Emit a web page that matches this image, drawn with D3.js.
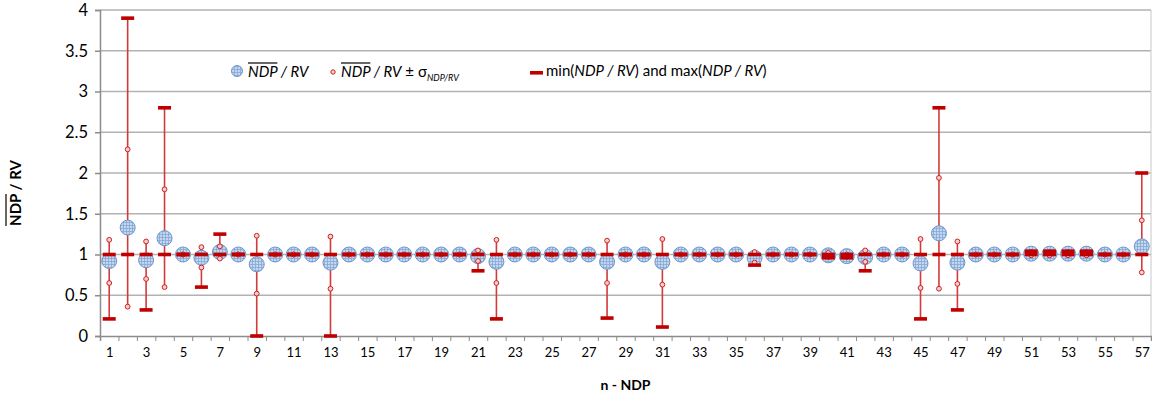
<!DOCTYPE html>
<html>
<head>
<meta charset="utf-8">
<script src="https://cdn.jsdelivr.net/npm/d3@7"></script>
<style>
  body { margin: 0; background: #fff; }
  svg { display: block; font-family: Lato, 'Open Sans', sans-serif; }
</style>
</head>
<body>
<svg id="chart" width="1152" height="394"></svg>
<script>
// n - NDP categories
const categories = d3.range(1, 58);
const yTicks = [0, 0.5, 1, 1.5, 2, 2.5, 3, 3.5, 4];
const xLabels = categories.filter((d) => d % 2 === 1);

// mean NDP/RV
const meanVals = [
  0.92, 1.33, 0.93, 1.2, 1, 0.96, 1.03, 1, 0.88, 1,
  1, 1, 0.9, 1, 1, 1, 1, 1, 1, 1,
  0.98, 0.91, 1, 1, 1, 1, 1, 0.91, 1, 1,
  0.91, 1, 1, 1, 1, 0.96, 1, 1, 1, 0.99,
  0.98, 0.97, 1, 1, 0.89, 1.26, 0.9, 1, 1, 1,
  1.01, 1.01, 1.01, 1.01, 1, 1, 1.1
];
// mean + sigma
const sigmaHigh = [
  1.18, 2.29, 1.16, 1.8, 1, 1.09, 1.1, 1, 1.23, 1,
  1, 1, 1.22, 1, 1, 1, 1, 1, 1, 1,
  1.05, 1.18, 1, 1, 1, 1, 1, 1.17, 1, 1,
  1.19, 1, 1, 1, 1, 1.03, 1, 1, 1, 1.02,
  1, 1.05, 1, 1, 1.19, 1.94, 1.16, 1, 1, 1,
  1.03, 1.03, 1.03, 1.03, 1, 1, 1.42
];
// mean - sigma
const sigmaLow = [
  0.65, 0.36, 0.7, 0.6, 1, 0.84, 0.95, 1, 0.52, 1,
  1, 1, 0.58, 1, 1, 1, 1, 1, 1, 1,
  0.92, 0.65, 1, 1, 1, 1, 1, 0.65, 1, 1,
  0.63, 1, 1, 1, 1, 0.9, 1, 1, 1, 0.97,
  0.97, 0.91, 1, 1, 0.59, 0.58, 0.64, 1, 1, 1,
  0.99, 0.99, 0.99, 0.99, 1, 1, 0.78
];
const minVals = [
  0.21, 1, 0.32, 1, 1, 0.6, 1, 1, 0, 1,
  1, 1, 0, 1, 1, 1, 1, 1, 1, 1,
  0.8, 0.21, 1, 1, 1, 1, 1, 0.22, 1, 1,
  0.11, 1, 1, 1, 1, 0.87, 1, 1, 1, 0.96,
  0.96, 0.8, 1, 1, 0.21, 1, 0.32, 1, 1, 1,
  1, 1, 1, 1, 1, 1, 1
];
const maxVals = [
  1, 3.9, 1, 2.8, 1, 1, 1.25, 1, 1, 1,
  1, 1, 1, 1, 1, 1, 1, 1, 1, 1,
  1, 1, 1, 1, 1, 1, 1, 1, 1, 1,
  1, 1, 1, 1, 1, 1, 1, 1, 1, 1,
  1, 1, 1, 1, 1, 2.8, 1, 1, 1, 1,
  1.04, 1.04, 1.04, 1.04, 1, 1, 2
];

const red = '#c00000';
const svg = d3.select('#chart');
const margin = { top: 10, right: 1, bottom: 58, left: 100 };
const width = +svg.attr('width');
const height = +svg.attr('height');
const x0 = margin.left, x1 = width - margin.right;
const y0 = height - margin.bottom;

const x = d3.scaleLinear().domain([0.5, 57.5]).range([x0, x1]);
const y = d3.scaleLinear().domain([0, 4]).range([y0, margin.top]);

// grid pattern for the mean markers
const defs = svg.append('defs');
const pat = defs.append('pattern')
  .attr('id', 'grid')
  .attr('patternUnits', 'userSpaceOnUse')
  .attr('width', 3).attr('height', 3);
pat.append('rect').attr('width', 3).attr('height', 3).attr('fill', '#c3d6ee');
pat.append('path').attr('d', 'M0,0.5H3M0.5,0V3')
  .attr('stroke', '#7ea3d4').attr('stroke-width', 0.7);

// gridlines
svg.append('g').selectAll('line')
  .data(yTicks.filter((d) => d > 0))
  .enter().append('line')
  .attr('x1', x0).attr('x2', x1)
  .attr('y1', (d) => y(d)).attr('y2', (d) => y(d))
  .attr('stroke', '#b2b2b2').attr('stroke-width', 1.5);

// right border
svg.append('line')
  .attr('x1', x1).attr('x2', x1).attr('y1', y(4)).attr('y2', y0)
  .attr('stroke', '#c8c8c8').attr('stroke-width', 1);

// y axis
const yAxis = svg.append('g')
  .attr('transform', `translate(${x0},0)`)
  .call(d3.axisLeft(y).tickValues(yTicks).tickSize(5).tickPadding(7).tickFormat((d) => String(d)));
yAxis.select('.domain').attr('stroke', '#8c8c8c').attr('stroke-width', 1.5);
yAxis.selectAll('.tick line').attr('stroke', '#8c8c8c').attr('stroke-width', 1.5);
yAxis.selectAll('text').attr('font-size', 16.5).attr('fill', '#000')
  .attr('font-family', 'Lato, sans-serif');

// x axis: boundary ticks + odd labels
const xAxis = svg.append('g')
  .attr('transform', `translate(0,${y0})`)
  .call(d3.axisBottom(x).tickValues(d3.range(0.5, 58, 1)).tickSize(5).tickFormat(''));
xAxis.select('.domain').attr('stroke', '#8c8c8c').attr('stroke-width', 1.5);
xAxis.selectAll('.tick line').attr('stroke', '#8c8c8c').attr('stroke-width', 1);

const xLab = svg.append('g')
  .attr('transform', `translate(0,${y0})`)
  .call(d3.axisBottom(x).tickValues(xLabels).tickSize(0).tickPadding(12).tickFormat((d) => String(d)));
xLab.select('.domain').remove();
xLab.selectAll('text').attr('font-size', 13).attr('fill', '#000')
  .attr('font-family', 'Lato, sans-serif');

// high-low lines
const rows = categories.map((c, i) => ({
  c,
  mean: meanVals[i],
  hi: sigmaHigh[i],
  lo: sigmaLow[i],
  min: minVals[i],
  max: maxVals[i],
}));

svg.append('g').selectAll('line')
  .data(rows.filter((d) => Math.max(d.max, d.hi) - Math.min(d.min, d.lo) > 0.001))
  .enter().append('line')
  .attr('x1', (d) => x(d.c)).attr('x2', (d) => x(d.c))
  .attr('y1', (d) => y(Math.max(d.max, d.hi, d.mean)))
  .attr('y2', (d) => y(Math.min(d.min, d.lo, d.mean)))
  .attr('stroke', '#d33a3a').attr('stroke-width', 1.6);

// mean markers
svg.append('g').selectAll('circle')
  .data(rows)
  .enter().append('circle')
  .attr('cx', (d) => x(d.c)).attr('cy', (d) => y(d.mean))
  .attr('r', 7.5)
  .attr('fill', 'url(#grid)')
  .attr('stroke', '#6f97cc').attr('stroke-width', 1);

// mean +/- sigma markers
const sig = [];
rows.forEach((d) => {
  sig.push({ c: d.c, v: d.hi });
  sig.push({ c: d.c, v: d.lo });
});
svg.append('g').selectAll('circle')
  .data(sig)
  .enter().append('circle')
  .attr('cx', (d) => x(d.c)).attr('cy', (d) => y(d.v))
  .attr('r', 2.4)
  .attr('fill', '#f6d0d0')
  .attr('stroke', '#d02020').attr('stroke-width', 1);

// min / max dashes
const dashes = [];
rows.forEach((d) => {
  dashes.push({ c: d.c, v: d.min });
  dashes.push({ c: d.c, v: d.max });
});
svg.append('g').selectAll('rect')
  .data(dashes)
  .enter().append('rect')
  .attr('x', (d) => x(d.c) - 6.5).attr('y', (d) => y(d.v) - 1.8)
  .attr('width', 13).attr('height', 3.6)
  .attr('fill', red);

// helper: overline on the first n characters of a text element
function overline(textSel, n, gap) {
  const node = textSel.node();
  const a = node.getStartPositionOfChar(0);
  const b = node.getEndPositionOfChar(n - 1);
  const bb = node.getBBox();
  d3.select(node.parentNode).append('line')
    .attr('x1', a.x).attr('x2', b.x)
    .attr('y1', bb.y + gap).attr('y2', bb.y + gap)
    .attr('stroke', '#000').attr('stroke-width', 1.2);
}

// legend
const leg = svg.append('g').attr('font-size', 15).attr('font-family', 'Lato, sans-serif');
const ly = 71;
leg.append('circle').attr('cx', 237).attr('cy', ly).attr('r', 5.5)
  .attr('fill', 'url(#grid)').attr('stroke', '#6f97cc');
const t1 = leg.append('text').attr('x', 248).attr('y', ly + 6).attr('font-style', 'italic');
t1.append('tspan').text('NDP');
t1.append('tspan').text(' / RV');
overline(t1, 3, 1);

leg.append('circle').attr('cx', 333).attr('cy', ly + 1).attr('r', 2.2)
  .attr('fill', '#f6d0d0').attr('stroke', '#d02020');
const t2 = leg.append('text').attr('x', 341).attr('y', ly + 6);
t2.append('tspan').attr('font-style', 'italic').text('NDP');
t2.append('tspan').attr('font-style', 'italic').text(' / RV');
t2.append('tspan').text(' \u00b1 \u03c3');
t2.append('tspan').attr('font-size', 9).attr('font-style', 'italic').attr('dy', 4).text('NDP/RV');
overline(t2, 3, 1);

leg.append('rect').attr('x', 530).attr('y', ly).attr('width', 13).attr('height', 3.6).attr('fill', red);
const t3 = leg.append('text').attr('x', 546).attr('y', ly + 5);
t3.append('tspan').text('min(');
t3.append('tspan').attr('font-style', 'italic').text('NDP / RV');
t3.append('tspan').text(') and max(');
t3.append('tspan').attr('font-style', 'italic').text('NDP / RV');
t3.append('tspan').text(')');

// axis titles
svg.append('text')
  .attr('x', (x0 + x1) / 2).attr('y', 390)
  .attr('text-anchor', 'middle')
  .attr('font-size', 14).attr('font-weight', 'bold')
  .attr('font-family', 'Lato, sans-serif')
  .text('n - NDP');

const yt = svg.append('g').attr('transform', 'translate(21,193) rotate(-90)');
const ytText = yt.append('text')
  .attr('text-anchor', 'middle')
  .attr('font-size', 15).attr('font-weight', 'bold')
  .attr('font-family', 'Lato, sans-serif');
ytText.append('tspan').text('NDP');
ytText.append('tspan').text(' / RV');
overline(ytText, 3, 0);
</script>
</body>
</html>
